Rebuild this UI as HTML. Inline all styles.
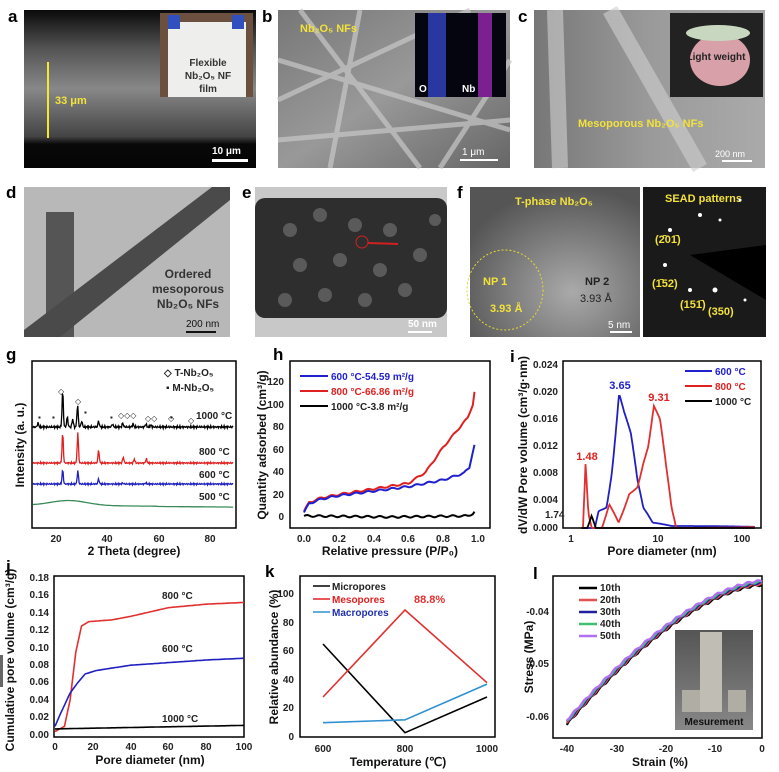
<!DOCTYPE html>
<html><head><meta charset="utf-8"><style>
body{margin:0;background:#fff}
svg{display:block;font-family:"Liberation Sans",Arial,sans-serif}
.t{font-size:10px;fill:#222;font-weight:bold}
.lb{font-size:12px;font-weight:bold;fill:#111}
.L{font-size:17px;font-weight:bold;fill:#000}
.y{fill:#f2e23a;font-weight:bold;font-size:11px}
</style></head><body>
<svg id="s" width="779" height="772" viewBox="0 0 779 772" xmlns="http://www.w3.org/2000/svg">
<defs>
<linearGradient id="ga" x1="0" y1="0" x2="0" y2="1"><stop offset="0" stop-color="#0a0a0a"/><stop offset="0.25" stop-color="#555"/><stop offset="0.5" stop-color="#888"/><stop offset="0.8" stop-color="#444"/><stop offset="0.85" stop-color="#080808"/><stop offset="1" stop-color="#050505"/></linearGradient>
<linearGradient id="gb" x1="0" y1="0" x2="1" y2="1"><stop offset="0" stop-color="#777"/><stop offset="0.5" stop-color="#999"/><stop offset="1" stop-color="#666"/></linearGradient>
<linearGradient id="gc" x1="0" y1="0" x2="1" y2="0"><stop offset="0" stop-color="#777"/><stop offset="0.5" stop-color="#9a9a9a"/><stop offset="1" stop-color="#aaa"/></linearGradient>
<radialGradient id="gf" cx="0.6" cy="0.7" r="0.7"><stop offset="0" stop-color="#aaa"/><stop offset="1" stop-color="#555"/></radialGradient>
<linearGradient id="gk" x1="0" y1="0" x2="0" y2="1"><stop offset="0" stop-color="#555"/><stop offset="1" stop-color="#888"/></linearGradient>
</defs>
<!-- a -->
<text x="8" y="22" class="L">a</text>
<rect x="24" y="10" width="232" height="158" fill="url(#ga)"/>
<rect x="160" y="13" width="93" height="84" fill="#6b5040"/>
<rect x="168" y="22" width="78" height="75" fill="#eeeeec"/>
<rect x="168" y="15" width="12" height="14" fill="#3050c0"/><rect x="232" y="15" width="12" height="14" fill="#3050c0"/>
<text x="208" y="66" text-anchor="middle" font-size="10" font-weight="bold" fill="#333">Flexible</text>
<text x="208" y="79" text-anchor="middle" font-size="10" font-weight="bold" fill="#333">Nb₂O₅ NF</text>
<text x="208" y="92" text-anchor="middle" font-size="10" font-weight="bold" fill="#333">film</text>
<line x1="48" y1="62" x2="48" y2="138" stroke="#f5e830" stroke-width="2"/>
<text x="55" y="104" class="y">33 μm</text>
<text x="212" y="154" font-size="10" font-weight="bold" fill="#fff">10 μm</text>
<rect x="212" y="159" width="36" height="3" fill="#fff"/>
<!-- b -->
<text x="262" y="22" class="L">b</text>
<rect x="278" y="10" width="232" height="158" fill="url(#gb)"/>
<g stroke="#c8c8c8" stroke-width="5" opacity="0.7"><line x1="278" y1="60" x2="510" y2="130"/><line x1="300" y1="10" x2="420" y2="168"/><line x1="278" y1="140" x2="510" y2="120"/><line x1="360" y1="10" x2="330" y2="168"/><line x1="278" y1="100" x2="470" y2="10"/><line x1="440" y1="168" x2="510" y2="60"/></g>
<rect x="415" y="13" width="91" height="84" fill="#050510"/>
<rect x="428" y="13" width="18" height="84" fill="#2838a0"/><rect x="478" y="13" width="14" height="84" fill="#7a2090"/>
<text x="419" y="92" font-size="10" font-weight="bold" fill="#fff">O</text><text x="462" y="92" font-size="10" font-weight="bold" fill="#fff">Nb</text>
<text x="300" y="32" class="y">Nb₂O₅ NFs</text>
<text x="462" y="155" font-size="10" fill="#fff">1 μm</text><rect x="460" y="159" width="38" height="2" fill="#fff"/>
<!-- c -->
<text x="518" y="22" class="L">c</text>
<rect x="534" y="10" width="231" height="158" fill="url(#gc)"/>
<g stroke="#d0d0d0" stroke-width="16" opacity="0.6"><line x1="555" y1="10" x2="560" y2="168"/><line x1="610" y1="10" x2="700" y2="168"/></g>
<rect x="670" y="13" width="93" height="84" fill="#222"/>
<ellipse cx="720" cy="60" rx="30" ry="26" fill="#d8a0a8"/><ellipse cx="718" cy="33" rx="32" ry="8" fill="#c8d8c0"/>
<text x="716" y="60" text-anchor="middle" font-size="10" font-weight="bold" fill="#222">Light weight</text>
<text x="578" y="127" class="y">Mesoporous Nb₂O₅ NFs</text>
<text x="715" y="157" font-size="9" fill="#fff">200 nm</text><rect x="722" y="160" width="30" height="2" fill="#fff"/>
<!-- d -->
<text x="6" y="198" class="L">d</text>
<rect x="24" y="187" width="206" height="150" fill="#b8b8b8"/>
<rect x="46" y="212" width="28" height="125" fill="#555"/>
<polygon points="24,330 24,337 60,337 230,200 230,187 212,187" fill="#4a4a4a"/>
<text x="188" y="278" text-anchor="middle" font-size="12" font-weight="bold" fill="#333">Ordered</text>
<text x="188" y="293" text-anchor="middle" font-size="12" font-weight="bold" fill="#333">mesoporous</text>
<text x="188" y="308" text-anchor="middle" font-size="12" font-weight="bold" fill="#333">Nb₂O₅ NFs</text>
<text x="186" y="327" font-size="10" fill="#111">200 nm</text><rect x="186" y="331" width="30" height="2" fill="#111"/>
<!-- e -->
<text x="242" y="198" class="L">e</text>
<rect x="255" y="187" width="192" height="150" fill="#c8c8c8"/>
<rect x="255" y="198" width="192" height="120" rx="10" fill="#2e2e2e"/>
<g fill="#666" opacity="0.8"><circle cx="290" cy="230" r="7"/><circle cx="320" cy="215" r="7"/><circle cx="355" cy="225" r="7"/><circle cx="390" cy="230" r="7"/><circle cx="300" cy="265" r="7"/><circle cx="340" cy="260" r="7"/><circle cx="380" cy="270" r="7"/><circle cx="420" cy="255" r="7"/><circle cx="285" cy="300" r="7"/><circle cx="325" cy="295" r="7"/><circle cx="365" cy="300" r="7"/><circle cx="405" cy="290" r="7"/><circle cx="435" cy="220" r="6"/></g>
<circle cx="362" cy="242" r="6" fill="none" stroke="#d02020"/><line x1="368" y1="243" x2="398" y2="244" stroke="#d02020" stroke-width="2"/>
<text x="408" y="327" font-size="10" font-weight="bold" fill="#fff">50 nm</text><rect x="408" y="331" width="24" height="2" fill="#fff"/>
<!-- f -->
<text x="457" y="198" class="L">f</text>
<rect x="470" y="187" width="170" height="150" fill="url(#gf)"/>
<rect x="643" y="187" width="123" height="150" fill="#1a1a1a"/>
<polygon points="766,245 690,255 766,300" fill="#000"/>
<text x="515" y="205" class="y">T-phase Nb₂O₅</text>
<text x="665" y="202" class="y">SEAD patterns</text>
<ellipse cx="505" cy="290" rx="38" ry="40" fill="none" stroke="#e8d830" stroke-dasharray="2 2"/>
<text x="483" y="285" class="y">NP 1</text><text x="490" y="312" class="y">3.93 Å</text>
<text x="585" y="285" font-size="11" font-weight="bold" fill="#222">NP 2</text><text x="580" y="302" font-size="11" fill="#222">3.93 Å</text>
<text x="608" y="328" font-size="10" fill="#fff">5 nm</text><rect x="610" y="331" width="22" height="2" fill="#fff"/>
<g class="y" font-size="10"><text x="655" y="243">(2̄01̄)</text><text x="652" y="287">(1̄52)</text><text x="680" y="308">(151̄)</text><text x="708" y="315">(350)</text></g>
<g fill="#fff"><circle cx="670" cy="230" r="2"/><circle cx="700" cy="215" r="2"/><circle cx="665" cy="265" r="2"/><circle cx="690" cy="290" r="2"/><circle cx="715" cy="290" r="2.5"/><circle cx="720" cy="220" r="1.5"/><circle cx="740" cy="200" r="1.5"/><circle cx="745" cy="300" r="1.5"/></g>

<!-- g -->
<text x="6" y="360" class="L">g</text>
<rect x="32" y="361" width="204" height="167" fill="none" stroke="#000" stroke-width="1.5"/>
<g class="t" text-anchor="middle"><text x="56" y="542">20</text><text x="107" y="542">40</text><text x="159" y="542">60</text><text x="210" y="542">80</text></g>
<text x="134" y="555" class="lb" text-anchor="middle">2 Theta (degree)</text>
<text transform="translate(24,445) rotate(-90)" class="lb" text-anchor="middle">Intensity (a. u.)</text>
<text x="164" y="376" class="t">◇ T-Nb₂O₅</text><text x="166" y="391" class="t">▪ M-Nb₂O₅</text>
<g class="t"><text x="196" y="419">1000 °C</text><text x="199" y="455">800 °C</text><text x="199" y="478">600 °C</text><text x="199" y="500">500 °C</text></g>
<g font-size="8" fill="#222"><text x="58" y="394">◇</text><text x="75" y="404">◇</text><text x="118" y="418">◇◇◇</text><text x="145" y="421">◇◇</text><text x="168" y="421">◇</text><text x="188" y="423">◇</text><text x="38" y="420">▪</text><text x="52" y="420">▪</text><text x="84" y="415">▪</text><text x="110" y="420">▪</text><text x="170" y="420">▪</text></g>
<!-- h -->
<text x="273" y="360" class="L">h</text>
<rect x="290" y="361" width="200" height="167" fill="none" stroke="#000" stroke-width="1.5"/>
<g class="t" text-anchor="end"><text x="284" y="520">0</text><text x="284" y="498">20</text><text x="284" y="475">40</text><text x="284" y="453">60</text><text x="284" y="430">80</text><text x="284" y="408">100</text><text x="284" y="385">120</text></g>
<g class="t" text-anchor="middle"><text x="304" y="542">0.0</text><text x="339" y="542">0.2</text><text x="374" y="542">0.4</text><text x="408" y="542">0.6</text><text x="443" y="542">0.8</text><text x="478" y="542">1.0</text></g>
<text x="390" y="555" class="lb" text-anchor="middle">Relative pressure (P/P₀)</text>
<text transform="translate(266,445) rotate(-90)" class="lb" text-anchor="middle" font-size="11">Quantity adsorbed (cm³/g)</text>
<line x1="300" y1="376" x2="328" y2="376" stroke="#2020d0" stroke-width="2"/><line x1="300" y1="391" x2="328" y2="391" stroke="#e02020" stroke-width="2"/><line x1="300" y1="406" x2="328" y2="406" stroke="#000" stroke-width="2"/>
<text x="331" y="380" class="t" fill="#2020d0" style="fill:#2020d0">600 °C-54.59 m²/g</text>
<text x="331" y="395" class="t" style="fill:#e02020">800 °C-66.86 m²/g</text>
<text x="331" y="410" class="t">1000 °C-3.8 m²/g</text>
<!-- i -->
<text x="510" y="362" class="L">i</text>
<rect x="563" y="361" width="198" height="167" fill="none" stroke="#000" stroke-width="1.5"/>
<g class="t" text-anchor="end" font-size="9"><text x="558" y="531">0.000</text><text x="558" y="503">0.004</text><text x="558" y="476">0.008</text><text x="558" y="449">0.012</text><text x="558" y="422">0.016</text><text x="558" y="395">0.020</text><text x="558" y="368">0.024</text></g>
<g class="t" text-anchor="middle"><text x="571" y="542">1</text><text x="658" y="542">10</text><text x="742" y="542">100</text></g>
<text x="662" y="555" class="lb" text-anchor="middle">Pore diameter (nm)</text>
<text transform="translate(527,445) rotate(-90)" class="lb" text-anchor="middle" font-size="11">dV/dW Pore volume (cm³/g·nm)</text>
<line x1="685" y1="371" x2="712" y2="371" stroke="#2020d0" stroke-width="2"/><line x1="685" y1="386" x2="712" y2="386" stroke="#e02020" stroke-width="2"/><line x1="685" y1="401" x2="712" y2="401" stroke="#000" stroke-width="2"/>
<text x="715" y="375" class="t" style="fill:#2020d0">600 °C</text><text x="715" y="390" class="t" style="fill:#e02020">800 °C</text><text x="715" y="405" class="t">1000 °C</text>
<text x="620" y="389" class="t" text-anchor="middle" style="fill:#2020d0;font-size:11px">3.65</text>
<text x="659" y="401" class="t" text-anchor="middle" style="fill:#e02020;font-size:11px">9.31</text>
<text x="587" y="460" class="t" text-anchor="middle" style="fill:#e02020;font-size:11px">1.48</text>
<text x="545" y="518" class="t">1.74</text>
<!-- j -->
<text x="6" y="572" class="L">j</text>
<rect x="54" y="576" width="190" height="161" fill="none" stroke="#000" stroke-width="1.5"/>
<g class="t" text-anchor="end" font-size="9"><text x="49" y="738">0.00</text><text x="49" y="720">0.02</text><text x="49" y="703">0.04</text><text x="49" y="685">0.06</text><text x="49" y="668">0.08</text><text x="49" y="651">0.10</text><text x="49" y="633">0.12</text><text x="49" y="616">0.14</text><text x="49" y="598">0.16</text><text x="49" y="581">0.18</text></g>
<g class="t" text-anchor="middle"><text x="55" y="750">0</text><text x="93" y="750">20</text><text x="131" y="750">40</text><text x="168" y="750">60</text><text x="206" y="750">80</text><text x="244" y="750">100</text></g>
<text x="150" y="764" class="lb" text-anchor="middle">Pore diameter (nm)</text>
<text transform="translate(14,660) rotate(-90)" class="lb" text-anchor="middle" font-size="11">Cumulative pore volume (cm³/g)</text>
<g class="t"><text x="162" y="599">800 °C</text><text x="162" y="652">600 °C</text><text x="162" y="722">1000 °C</text></g>
<rect x="0" y="655" width="3" height="32" fill="#666"/>
<!-- k -->
<text x="265" y="577" class="L">k</text>
<rect x="300" y="576" width="195" height="161" fill="none" stroke="#000" stroke-width="1.5"/>
<g class="t" text-anchor="end"><text x="294" y="740">0</text><text x="294" y="711">20</text><text x="294" y="683">40</text><text x="294" y="654">60</text><text x="294" y="626">80</text><text x="294" y="597">100</text></g>
<g class="t" text-anchor="middle"><text x="323" y="752">600</text><text x="405" y="752">800</text><text x="487" y="752">1000</text></g>
<text x="398" y="766" class="lb" text-anchor="middle">Temperature (℃)</text>
<text transform="translate(278,657) rotate(-90)" class="lb" text-anchor="middle" font-size="11">Relative abundance (%)</text>
<g class="t"><text x="332" y="590">Micropores</text><text x="332" y="603" style="fill:#e02020">Mesopores</text><text x="332" y="616" style="fill:#2030b0">Macropores</text></g>
<line x1="313" y1="586" x2="330" y2="586" stroke="#000" stroke-width="1.5"/><line x1="313" y1="599" x2="330" y2="599" stroke="#e02020" stroke-width="1.5"/><line x1="313" y1="612" x2="330" y2="612" stroke="#3090d0" stroke-width="1.5"/>
<text x="414" y="603" class="t" style="fill:#e03030;font-size:11px">88.8%</text>
<!-- l -->
<text x="533" y="579" class="L">l</text>
<rect x="553" y="576" width="209" height="162" fill="none" stroke="#000" stroke-width="1.5"/>
<g class="t" text-anchor="end"><text x="549" y="615">-0.04</text><text x="549" y="667">-0.05</text><text x="549" y="720">-0.06</text></g>
<g class="t" text-anchor="middle"><text x="567" y="752">-40</text><text x="617" y="752">-30</text><text x="666" y="752">-20</text><text x="715" y="752">-10</text><text x="762" y="752">0</text></g>
<text x="660" y="766" class="lb" text-anchor="middle">Strain (%)</text>
<text transform="translate(533,657) rotate(-90)" class="lb" text-anchor="middle" font-size="11">Stress (MPa)</text>
<g stroke-width="2.5"><line x1="579" y1="588" x2="597" y2="588" stroke="#000"/><line x1="579" y1="600" x2="597" y2="600" stroke="#e05050"/><line x1="579" y1="612" x2="597" y2="612" stroke="#2020a0"/><line x1="579" y1="624" x2="597" y2="624" stroke="#40c070"/><line x1="579" y1="636" x2="597" y2="636" stroke="#b070f0"/></g>
<g class="t" font-size="9"><text x="600" y="591">10th</text><text x="600" y="603">20th</text><text x="600" y="615">30th</text><text x="600" y="627">40th</text><text x="600" y="639">50th</text></g>
<rect x="675" y="630" width="78" height="100" fill="url(#gk)"/>
<rect x="700" y="632" width="22" height="80" fill="#c0bdb5"/><rect x="682" y="690" width="18" height="22" fill="#b0ada5"/><rect x="728" y="690" width="18" height="22" fill="#b0ada5"/>
<text x="714" y="725" text-anchor="middle" font-size="10" font-weight="bold" fill="#111">Mesurement</text>
<g id="curves" fill="none" stroke-width="1.6"></g>
</svg>
<script>
var g=document.getElementById('curves'),NS='http://www.w3.org/2000/svg';
function P(pts,c,w){var p=document.createElementNS(NS,'polyline');p.setAttribute('points',pts.map(function(a){return a[0].toFixed(1)+','+a[1].toFixed(1)}).join(' '));p.setAttribute('stroke',c);if(w)p.setAttribute('stroke-width',w);g.appendChild(p);}
function interp(arr,x){for(var i=0;i<arr.length-1;i++){if(x<=arr[i+1][0]){var t=(x-arr[i][0])/(arr[i+1][0]-arr[i][0]);return arr[i][1]+t*(arr[i+1][1]-arr[i][1]);}}return arr[arr.length-1][1];}
// g
function xg(d){return 56+(d-20)*2.567}
function xrd(base,peaks,c,noise){var pts=[];for(var d=11;d<=89;d+=0.25){var v=0;peaks.forEach(function(p){v+=p[1]*Math.exp(-Math.pow((d-p[0])/0.35,2))});v+=(Math.sin(d*7.3)+Math.sin(d*13.1))*noise;pts.push([xg(d),base-v]);}P(pts,c,1.3);}
xrd(427,[[22.6,36],[28.4,22],[24.4,10],[26.5,8],[30,6],[13,4],[36.6,6],[42,3],[46,4],[50,3],[55,3],[57,2]],'#000',0.7);
xrd(463,[[22.6,30],[28.5,30],[36.6,13],[46.2,6],[50.5,4],[55.2,4]],'#e02020',0.5);
xrd(484,[[22.6,14],[28.5,13],[36.6,5],[46,1],[55,1]],'#2020c0',0.5);
(function(){var pts=[];for(var d=11;d<=89;d+=1){var v=5*Math.exp(-Math.pow((d-25)/10,2))+1*(d<60?1:0.7)-d*0.02;pts.push([xg(d),506-v]);}P(pts,'#3a8a5a',1.3);})();
// h
function xh(p){return 304+p*174}function yh(v){return 517-v*1.125}
function iso(arr,c){var pts=[];for(var p=0;p<=0.99;p+=0.01){pts.push([xh(p),yh(interp(arr,p)+Math.sin(p*90)*0.8)]);}P(pts,c,2);}
iso([[0,5],[0.03,13],[0.1,17],[0.2,20],[0.4,25],[0.6,30],[0.7,40],[0.8,62],[0.88,77],[0.94,88],[0.97,100],[0.99,122]],'#e02020');
iso([[0,4],[0.03,12],[0.1,16],[0.2,19],[0.4,23],[0.6,27],[0.8,33],[0.92,39],[0.95,44],[0.97,58],[0.99,70]],'#2020d0');
iso([[0,1],[0.5,0],[0.94,1],[0.97,3],[0.99,6]],'#000');
// i
function xi(d){return 571+Math.log10(d)*85.5}function yi(v){return 528-v/0.024*163}
function psd(arr,c){var pts=[];for(var l=0.12;l<=2.15;l+=0.01){var d=Math.pow(10,l);pts.push([xi(d),yi(Math.max(0,interp(arr,d)))]);}P(pts,c,1.8);}
psd([[1,0],[1.9,0],[2.1,0.0025],[2.6,0.003],[3.0,0.008],[3.65,0.0198],[4.2,0.017],[5,0.014],[6,0.007],[7,0.003],[9,0.0008],[15,0.0003],[200,0.0001]],'#2020c0');
psd([[1,0],[1.38,0],[1.48,0.0095],[1.6,0.002],[1.75,0],[2.3,0],[2.8,0.0035],[3.6,0.0008],[4.8,0.005],[6,0.006],[7,0.0095],[8,0.012],[9.31,0.018],[11,0.016],[13,0.009],[15,0.003],[17,0],[200,0.0002]],'#e03030');
psd([[1,0],[1.55,0],[1.74,0.0018],[1.95,0],[200,0]],'#000');
// j
function xj(d){return 55+d*1.89}function yj(v){return 735-v/0.18*157}
function cum(arr,c){var pts=[];for(var d=0;d<=100;d+=1)pts.push([xj(d),yj(interp(arr,d))]);P(pts,c,1.6);}
cum([[0,0.004],[5,0.01],[8,0.04],[11,0.095],[14,0.125],[18,0.13],[30,0.132],[40,0.136],[60,0.146],[80,0.15],[100,0.152]],'#e03030');
cum([[0,0.01],[3,0.025],[8,0.048],[12,0.06],[16,0.07],[22,0.074],[40,0.08],[60,0.083],[80,0.086],[100,0.088]],'#2020c0');
cum([[0,0.007],[50,0.009],[100,0.011]],'#000');
// k
function xk(t){return 323+(t-600)*0.41}function yk(v){return 737-v*1.43}
[[[65,3,28],'#000'],[[28,88.8,38],'#e03030'],[[10,12,37],'#3090d0']].forEach(function(s){P([[xk(600),yk(s[0][0])],[xk(800),yk(s[0][1])],[xk(1000),yk(s[0][2])]],s[1],1.6);});
// l
function xl(s){return 762+s*4.88}function yl(v){return 612+(-0.04-v)*5200}
['#000','#e05050','#2020a0','#40c070','#b070f0'].forEach(function(c,k){var pts=[];for(var s=-40;s<=0;s+=0.5){var v=-0.0344-0.0268*Math.pow(-s/40,1.6)+(k-2)*0.0002+Math.sin(s*3+k)*0.0002;pts.push([xl(s),yl(v)]);}P(pts,c,2.2);});
</script>
</body></html>
